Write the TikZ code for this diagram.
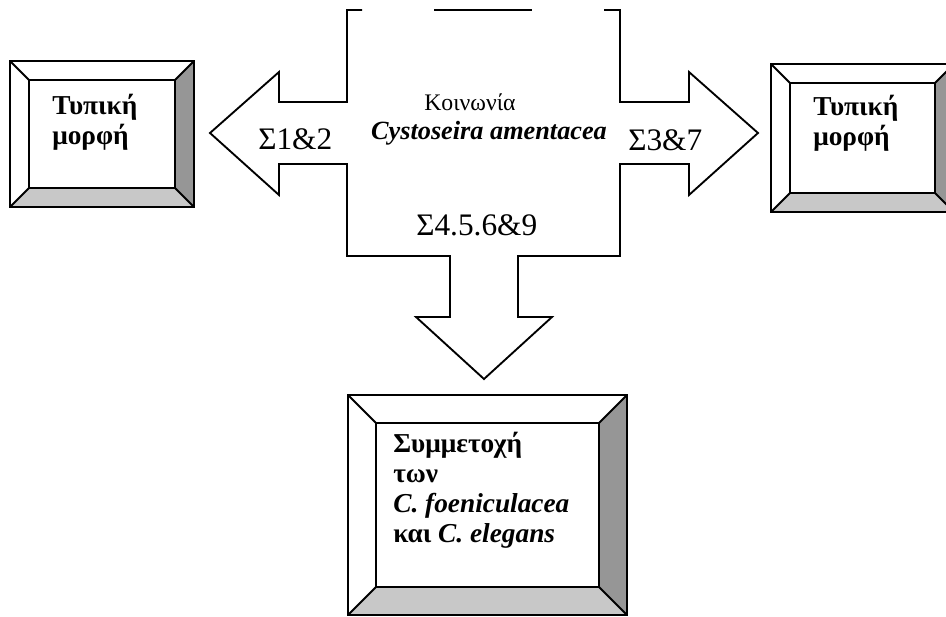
\documentclass[tikz,border=0pt]{standalone}
\usepackage{fontspec}
\setmainfont{Liberation Serif}
\definecolor{bevdark}{HTML}{969696}
\definecolor{bevlight}{HTML}{C8C8C8}
\tikzset{
  outline/.style={draw=black, line width=1.4pt, line join=miter},
  bigsig/.style={anchor=base west, inner sep=0pt, font=\fontsize{23.5}{26}\selectfont},
  boxtext/.style={anchor=base west, inner sep=0pt, font=\fontsize{20.5}{22.5}\selectfont\bfseries},
}
% raised frame: outer corner (#1,#2), opposite corner (#3,#4), bevel #5
\newcommand\bevelframe[5]{%
  \fill[white] (#1,#2) rectangle (#3,#4);
  \fill[bevdark] (#3,#2) -- (#3,#4) -- ({#3-#5},{#4-#5}) -- ({#3-#5},{#2+#5}) -- cycle;
  \fill[bevlight] (#1,#4) -- (#3,#4) -- ({#3-#5},{#4-#5}) -- ({#1+#5},{#4-#5}) -- cycle;
  \draw[outline] (#1,#2) rectangle (#3,#4);
  \draw[outline] ({#1+#5},{#2+#5}) rectangle ({#3-#5},{#4-#5});
  \draw[outline] (#1,#2) -- ({#1+#5},{#2+#5});
  \draw[outline] (#3,#2) -- ({#3-#5},{#2+#5});
  \draw[outline] (#1,#4) -- ({#1+#5},{#4-#5});
  \draw[outline] (#3,#4) -- ({#3-#5},{#4-#5});
}
\begin{document}
\begin{tikzpicture}[x=0.75pt, y=-0.75pt]
  \useasboundingbox (0,0) rectangle (946,617);
  \clip (0,0) rectangle (946,617);
  \fill[white] (0,0) rectangle (946,617);

  % three-way arrow around the central label
  \draw[outline, fill=white]
    (362,10) -- (347,10) -- (347,102) -- (279,102) -- (279,72) -- (210,133)
    -- (279,195) -- (279,164) -- (347,164) -- (347,256) -- (450,256)
    -- (450,317) -- (416,317) -- (484,379) -- (552,317) -- (518,317)
    -- (518,256) -- (620,256) -- (620,164) -- (689,164) -- (689,195)
    -- (758,133) -- (689,72) -- (689,102) -- (620,102) -- (620,10) -- (604,10);
  \draw[outline] (434,10) -- (532,10);

  % central labels
  \node[anchor=base, inner sep=0pt, font=\fontsize{17.8}{20}\selectfont] (koin) at (470,111) {Κοινωνία};
  \node[anchor=base, inner sep=0pt, font=\fontsize{19.7}{22}\selectfont\bfseries\itshape] (cyst) at (489,139) {Cystoseira amentacea};
  \node[bigsig] (s12) at (258,149) {Σ1\&2};
  \node[bigsig] (s37) at (628,150) {Σ3\&7};
  \node[bigsig] (s4569) at (416,235) {Σ4.5.6\&9};

  % left frame
  \bevelframe{10}{61}{194}{207}{19}
  \node[boxtext] (la) at (52,114) {Τυπική};
  \node[boxtext] (lb) at (52,144) {μορφή};

  % right frame
  \bevelframe{771}{64}{954}{212}{19}
  \node[boxtext] (ra) at (813,115) {Τυπική};
  \node[boxtext] (rb) at (813,145) {μορφή};

  % bottom frame
  \bevelframe{348}{395}{627}{615}{28}
  \node[boxtext] (ba) at (393,452) {Συμμετοχή};
  \node[boxtext] (bb) at (393,482) {των};
  \node[boxtext] (bc) at (393,512) {\itshape C. foeniculacea};
  \node[boxtext] (bd) at (393,542) {και \itshape C. elegans};
\end{tikzpicture}
\end{document}
